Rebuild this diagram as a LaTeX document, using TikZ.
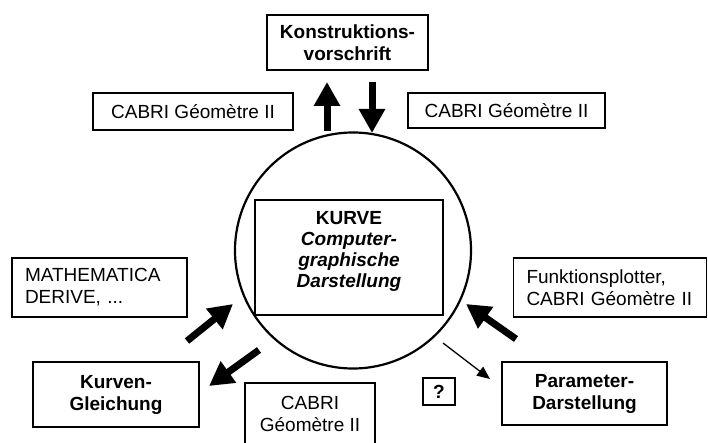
\documentclass[tikz,border=0pt]{standalone}
\usepackage{fontspec}
\setmainfont{Liberation Sans}
\usetikzlibrary{arrows.meta}
\begin{document}
\begin{tikzpicture}[x=1pt,y=-1pt,
  box/.style={draw, line width=1.6pt, inner sep=0pt, align=center, font=\fontsize{19}{22}\selectfont},
  tbox/.style={box, font=\fontsize{19}{22}\selectfont\bfseries},
  lbox/.style={box, align=left, inner xsep=13pt},
  bigarrow/.style={line width=7pt, -{Triangle[length=24pt,width=25pt]}},
  thinarrow/.style={line width=1.3pt, -{Triangle[length=13pt,width=11pt]}}]
\useasboundingbox[fill=white] (0,0) rectangle (708,443);
\clip (0,0) rectangle (708,443);

% centre
\node[draw, circle, line width=2.2pt, minimum size=236pt, inner sep=0pt] (circ) at (353,250.5) {};
\node[box, minimum width=188pt, minimum height=115pt] (kurve) at (349,257.5) {};
\node[align=center, font=\fontsize{19}{21}\selectfont\bfseries] (kurvetext) at (349,251)
  {KURVE\\\itshape Computer-\\\itshape graphische\\\itshape Darstellung};

% boxes
\node[tbox, minimum width=161pt, minimum height=55pt] (konst) at (347.5,42.5) {Konstruktions-\\vorschrift};
\node[box, minimum width=200pt, minimum height=37pt] (cabriTL) at (193,111.5) {CABRI Géomètre II};
\node[box, minimum width=197pt, minimum height=35pt] (cabriTR) at (506.5,110.5) {CABRI Géomètre II};
\node[lbox, text width=149pt, minimum height=59pt] (math) at (99.5,287.5) {MATHEMATICA\\DERIVE, ...};
\node[tbox, minimum width=166pt, minimum height=65pt] (kurven) at (116,394.5) {Kurven-\\Gleichung};
\node[box, minimum width=130pt, minimum height=62pt] (cabriB) at (310,414) {CABRI\\Géomètre II};
\node[tbox, minimum width=32pt, minimum height=27pt] (qbox) at (439,391.5) {?};
\node[lbox, text width=167pt, minimum height=59pt] (funk) at (610,287.5) {Funktionsplotter,\\CABRI Géomètre II};
\node[tbox, minimum width=165pt, minimum height=63pt] (param) at (584.5,393.5) {Parameter-\\Darstellung};

% arrow end points
\coordinate (upS) at (327,131);
\coordinate (upE) at (327,82);
\coordinate (dnS) at (372,82);
\coordinate (dnE) at (372,133);
\coordinate (mS) at (187,341);
\coordinate (mE) at (233,304);
\coordinate (kS) at (259,350);
\coordinate (kE) at (209,386);
\coordinate (fS) at (516,339);
\coordinate (fE) at (466,304);
\coordinate (pS) at (443,343);
\coordinate (pE) at (490,379);

\draw[bigarrow] (upS) -- (upE);
\draw[bigarrow] (dnS) -- (dnE);
\draw[bigarrow] (mS) -- (mE);
\draw[bigarrow] (kS) -- (kE);
\draw[bigarrow] (fS) -- (fE);
\draw[thinarrow] (pS) -- (pE);
\end{tikzpicture}
\end{document}
